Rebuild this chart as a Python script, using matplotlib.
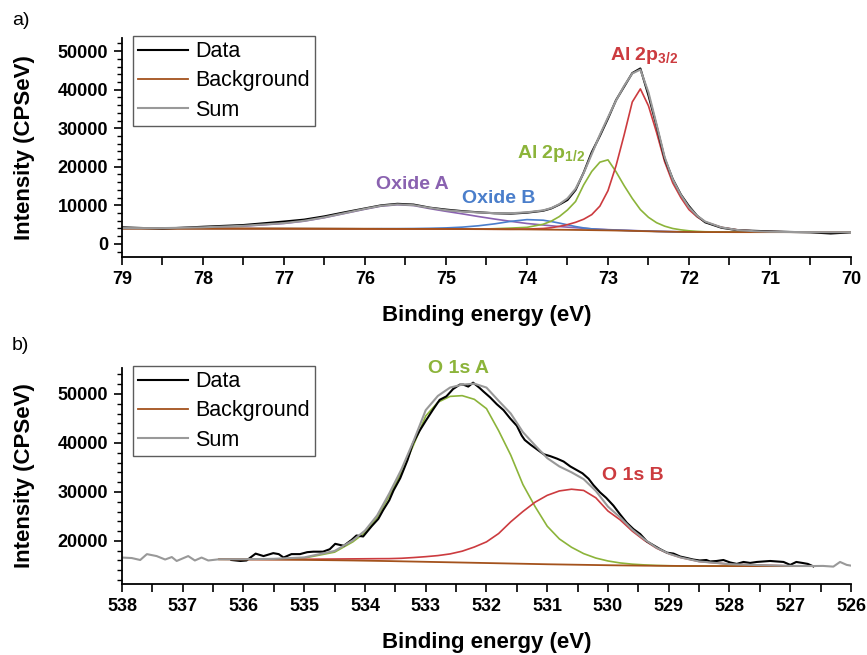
import numpy as np
import matplotlib
matplotlib.use("Agg")
import matplotlib.pyplot as plt
from matplotlib.ticker import MultipleLocator

plt.rcParams["font.family"] = ["Liberation Sans", "DejaVu Sans"]
plt.rcParams["mathtext.fontset"] = "custom"
plt.rcParams["mathtext.rm"] = "Liberation Sans:bold"
plt.rcParams["mathtext.bf"] = "Liberation Sans:bold"
plt.rcParams["mathtext.default"] = "bf"

# ----------------------------
# Panel a) Al 2p region
# ----------------------------
E_A = [79.0, 78.5, 78.0, 77.5, 77.0, 76.75, 76.5, 76.25, 76.0, 75.8, 75.6, 75.4, 75.2, 75.0,
       74.8, 74.6, 74.4, 74.2, 74.0, 73.8, 73.7, 73.6, 73.5, 73.4, 73.3, 73.2, 73.1, 73.0,
       72.9, 72.8, 72.7, 72.6, 72.5, 72.4, 72.3, 72.2, 72.1, 72.0, 71.9, 71.8, 71.6, 71.4,
       71.2, 71.0, 70.75, 70.5, 70.25, 70.0]
DATA_A = [4300, 3950, 4450, 4900, 5800, 6300, 7150, 8200, 9200, 10000, 10400, 10200, 9400, 8900,
          8500, 8200, 7950, 7850, 8100, 8600, 9200, 10200, 11400, 14000, 18500, 23800, 28000, 32500,
          37300, 40800, 44300, 45500, 38500, 30600, 22100, 16800, 12800, 9800, 7300, 5600, 4200, 3550,
          3400, 3250, 3100, 3000, 2700, 3000]
BG_A = [4000, 3990, 3980, 3970, 3960, 3950, 3940, 3930, 3920, 3910, 3900, 3890, 3880, 3870,
        3850, 3830, 3810, 3790, 3760, 3720, 3700, 3680, 3660, 3630, 3600, 3570, 3540, 3510,
        3470, 3430, 3380, 3330, 3280, 3230, 3190, 3150, 3120, 3100, 3080, 3070, 3060, 3050,
        3050, 3050, 3050, 3050, 3050, 3050]
SUM_A = [4100, 4100, 4300, 4700, 5400, 6000, 6900, 8000, 9100, 9900, 10250, 10050, 9350, 8750,
         8400, 8150, 7980, 7950, 8200, 8700, 9300, 10300, 11800, 14300, 18400, 23300, 28300, 32800,
         37200, 41000, 44200, 45200, 39300, 31000, 22500, 16700, 12700, 9500, 7300, 5800, 4300, 3600,
         3300, 3150, 3080, 3060, 3050, 3050]
OXIDE_A = [4050, 4100, 4250, 4600, 5300, 5900, 6800, 7900, 9000, 9800, 10150, 9950, 9150, 8450,
           7800, 7100, 6450, 5850, 5300, 4900, 4700, 4500, 4350, 4200, 4050, 3900, 3800, 3700,
           3620, 3540, 3470, 3400, 3330, 3270, 3220, 3170, 3140, 3110, 3080, 3070, 3060, 3050,
           3050, 3050, 3050, 3050, 3050, 3050]
OXIDE_B = [4000, 3990, 3980, 3970, 3960, 3950, 3940, 3930, 3920, 3950, 3960, 3990, 4050, 4150,
           4350, 4700, 5200, 5850, 6300, 6150, 5800, 5400, 4950, 4500, 4150, 3900, 3750, 3650,
           3570, 3500, 3430, 3370, 3310, 3250, 3200, 3160, 3130, 3110, 3080, 3070, 3060, 3050,
           3050, 3050, 3050, 3050, 3050, 3050]
AL_2P12 = [4000, 3990, 3980, 3970, 3960, 3950, 3940, 3930, 3920, 3910, 3900, 3890, 3880, 3870,
           3850, 3830, 3950, 4100, 4300, 5100, 5900, 7100, 8800, 11000, 15300, 18800, 21200, 21800,
           18700, 15100, 11800, 8900, 6900, 5500, 4600, 4000, 3650, 3400, 3250, 3150, 3080, 3060,
           3050, 3050, 3050, 3050, 3050, 3050]
AL_2P32 = [4000, 3990, 3980, 3970, 3960, 3950, 3940, 3930, 3920, 3910, 3900, 3890, 3880, 3870,
           3850, 3830, 3810, 3800, 3850, 4000, 4200, 4550, 5000, 5600, 6400, 7600, 9800, 13800,
           20300, 28300, 36800, 40200, 35800, 28900, 21300, 15800, 12000, 8900, 7000, 5700, 4300, 3650,
           3350, 3200, 3100, 3080, 3060, 3050]

# ----------------------------
# Panel b) O 1s region
# ----------------------------
E_B_DATA = [536.2, 536.05, 535.95, 535.8, 535.67, 535.51, 535.42, 535.34, 535.21, 535.07, 534.95,
            534.85, 534.69, 534.58, 534.49, 534.35, 534.22, 534.14, 534.03, 533.89, 533.78, 533.7,
            533.6, 533.53, 533.42, 533.3, 533.21, 533.1, 532.99, 532.88, 532.77, 532.66, 532.55,
            532.44, 532.38, 532.3, 532.22, 532.12, 532.05, 531.94, 531.83, 531.72, 531.61, 531.5,
            531.42, 531.37, 531.27, 531.17, 531.06, 530.95, 530.84, 530.73, 530.62, 530.52, 530.42,
            530.32, 530.24, 530.13, 530.03, 529.91, 529.8, 529.69, 529.58, 529.47, 529.36, 529.25,
            529.14, 529.03, 528.92, 528.81, 528.7, 528.6, 528.49, 528.38, 528.32, 528.21, 528.1,
            527.99, 527.88, 527.77, 527.66, 527.55, 527.44, 527.33, 527.22, 527.11, 527.0, 526.9,
            526.8, 526.71, 526.62]
DATA_B = [16100, 15900, 16000, 17400, 16900, 17500, 17300, 16600, 17300, 17300, 17700,
          17800, 17800, 18300, 19400, 19000, 20200, 21100, 20900, 23000, 24500, 26300,
          28300, 30300, 32800, 36500, 39900, 42500, 44700, 46800, 48800, 49500, 51000,
          51900, 51900, 51500, 52300, 51300, 50500, 49300, 47900, 46700, 45000, 43500,
          41500, 40600, 39600, 38700, 37700, 37300, 36800, 36200, 35200, 34500, 33800,
          32700, 31400, 29900, 28800, 27200, 25400, 23700, 22400, 21400, 19900, 19100,
          18300, 17600, 17400, 16800, 16500, 16200, 16000, 16100, 15800, 15900, 16100,
          15600, 15300, 15700, 15500, 15700, 15800, 15900, 15800, 15700, 15100, 15700,
          15500, 15300, 14800]

E_B = [536.4, 536.0, 535.5, 535.0, 534.5, 534.2, 534.0, 533.8, 533.6, 533.4, 533.2, 533.0,
       532.8, 532.6, 532.4, 532.2, 532.0, 531.8, 531.6, 531.4, 531.2, 531.0, 530.8, 530.6,
       530.4, 530.2, 530.0, 529.8, 529.6, 529.4, 529.2, 529.0, 528.8, 528.5, 528.0, 527.5,
       527.0, 526.6]
BG_B = [16250, 16220, 16180, 16120, 16050, 16000, 15960, 15920, 15880, 15830, 15780, 15730,
        15680, 15630, 15580, 15530, 15480, 15430, 15380, 15330, 15280, 15230, 15190, 15150,
        15110, 15070, 15030, 15000, 14970, 14940, 14920, 14900, 14880, 14870, 14860, 14850,
        14850, 14850]
O1S_A = [16250, 16250, 16300, 16500, 17700, 19800, 21700, 24800, 29200, 34000, 39600, 45500,
         48300, 49500, 49650, 48900, 47000, 42500, 37500, 31500, 27000, 23000, 20400, 18700,
         17400, 16500, 15900, 15500, 15250, 15100, 14990, 14930, 14890, 14870, 14860, 14850,
         14850, 14850]
O1S_B = [16250, 16230, 16220, 16250, 16300, 16330, 16350, 16370, 16380, 16450, 16600, 16780,
         17000, 17340, 17900, 18750, 19800, 21500, 23900, 26000, 27900, 29300, 30200, 30550,
         30300, 28800, 26100, 24300, 22000, 20100, 18500, 17400, 16600, 15800, 15250, 15050,
         14900, 14870]

# sum curve incl. the raw (unfitted) ends of the scan
E_B_SUM = [538.0, 537.84, 537.7, 537.59, 537.43, 537.29, 537.18, 537.1, 536.91, 536.8, 536.69,
           536.58, 536.4, 536.0, 535.5, 535.0, 534.5, 534.2, 534.0, 533.8, 533.6, 533.4, 533.2,
           533.0, 532.8, 532.6, 532.4, 532.2, 532.0, 531.8, 531.6, 531.4, 531.2, 531.0, 530.8,
           530.6, 530.4, 530.2, 530.0, 529.8, 529.6, 529.4, 529.2, 529.0, 528.8, 528.5, 528.0,
           527.5, 527.0, 526.6, 526.46, 526.29, 526.18, 526.07, 526.0]
SUM_B = [16600, 16500, 16100, 17300, 16900, 16200, 16700, 15900, 16900, 16000, 16600,
         16000, 16250, 16260, 16340, 16630, 17950, 20100, 22100, 25200, 29700, 34600, 40400,
         46700, 49600, 51300, 51900, 52100, 51300, 48600, 46000, 42200, 39500, 36900, 35200,
         34000, 32600, 30200, 27000, 24800, 22300, 20300, 18600, 17400, 16600, 15800, 15250,
         15050, 14900, 14870, 14890, 14750, 15700, 15100, 14950]

# ----------------------------
# Styling
# ----------------------------
C_DATA = "black"
C_BG = "#a4521c"
C_SUM = "#999999"
C_RED = "#cc3b3f"
C_GREEN = "#8cb43a"
C_PURPLE = "#8a62b0"
C_BLUE = "#4a7ecb"


def style_axes(ax, xlim, ylim, ymajor):
    ax.set_xlim(*xlim)
    ax.set_ylim(*ylim)
    ax.spines["top"].set_visible(False)
    ax.spines["right"].set_visible(False)
    for s in ("left", "bottom"):
        ax.spines[s].set_linewidth(1.3)
    ax.xaxis.set_major_locator(MultipleLocator(1))
    ax.xaxis.set_minor_locator(MultipleLocator(0.5))
    ax.yaxis.set_major_locator(MultipleLocator(ymajor))
    ax.yaxis.set_minor_locator(MultipleLocator(ymajor / 5))
    ax.tick_params(axis="both", which="major", direction="out", length=6, width=1.2,
                   labelsize=13, pad=4)
    ax.tick_params(axis="x", which="minor", direction="out", length=6, width=1.2)
    ax.tick_params(axis="y", which="minor", direction="out", length=3.5, width=1.0)
    for lab in ax.get_xticklabels() + ax.get_yticklabels():
        lab.set_fontweight("bold")
    ax.set_xlabel("Binding energy (eV)", fontsize=16, fontweight="bold", labelpad=12)
    ax.set_ylabel("Intensity (CPSeV)", fontsize=16, fontweight="bold", labelpad=16)


def add_legend(ax):
    leg = ax.legend(loc="upper left", bbox_to_anchor=(0.015, 1.01), fontsize=15.5,
                    frameon=True, fancybox=False, edgecolor="#333333",
                    handlelength=2.3, handletextpad=0.35, labelspacing=0.38,
                    borderpad=0.25, borderaxespad=0)
    leg.get_frame().set_linewidth(1.0)


fig = plt.figure(figsize=(8.67, 6.55), dpi=100)

# panel a
ax1 = fig.add_axes([0.1407, 0.6076, 0.8408, 0.3344])
ax1.plot(E_A, OXIDE_A, color=C_PURPLE, lw=1.2)
ax1.plot(E_A, OXIDE_B, color=C_BLUE, lw=1.2)
ax1.plot(E_A, AL_2P12, color=C_GREEN, lw=1.2)
ax1.plot(E_A, AL_2P32, color=C_RED, lw=1.2)
ax1.plot(E_A, DATA_A, color=C_DATA, lw=1.5, label="Data")
ax1.plot(E_A, BG_A, color=C_BG, lw=1.3, label="Background")
ax1.plot(E_A, SUM_A, color=C_SUM, lw=1.5, label="Sum")
style_axes(ax1, (79, 70), (-3400, 53400), 10000)
add_legend(ax1)

tkw = dict(fontsize=14, fontweight="bold", ha="left", va="baseline")
ax1.text(72.98, 47700, r"Al 2p$_{3/2}$", color=C_RED, **tkw)
ax1.text(74.12, 22300, r"Al 2p$_{1/2}$", color=C_GREEN, **tkw)
ax1.text(75.86, 14200, "Oxide A", color=C_PURPLE, **tkw)
ax1.text(74.80, 10600, "Oxide B", color=C_BLUE, **tkw)

# panel b
ax2 = fig.add_axes([0.1407, 0.1084, 0.8408, 0.3298])
ax2.plot(E_B, O1S_A, color=C_GREEN, lw=1.2)
ax2.plot(E_B, O1S_B, color=C_RED, lw=1.2)
ax2.plot(E_B_DATA, DATA_B, color=C_DATA, lw=1.5, label="Data")
ax2.plot(E_B, BG_B, color=C_BG, lw=1.3, label="Background")
ax2.plot(E_B_SUM, SUM_B, color=C_SUM, lw=1.5, label="Sum")
style_axes(ax2, (538, 526), (11200, 55300), 10000)
add_legend(ax2)

ax2.text(532.96, 54300, "O 1s A", color=C_GREEN, **tkw)
ax2.text(530.10, 32330, "O 1s B", color=C_RED, **tkw)

fig.text(0.014, 0.962, "a)", fontsize=14)
fig.text(0.014, 0.466, "b)", fontsize=14)

fig.savefig("out.png", dpi=100)
